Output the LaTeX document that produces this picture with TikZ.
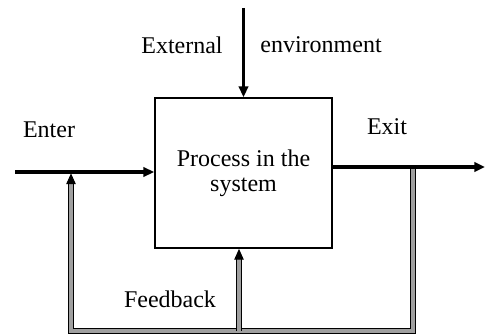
\documentclass[tikz,border=0pt]{standalone}
\usepackage{fontspec}
\setmainfont{Liberation Serif}
\usetikzlibrary{arrows.meta}
\begin{document}
\begin{tikzpicture}[x=0.75pt,y=-0.75pt,
  lbl/.style={font=\fontsize{18}{18.75}\selectfont, inner sep=0pt},
  mainarrow/.style={line width=2.3pt, -{Triangle[length=8pt,width=7pt]}},
  fb/.style={draw=black, line width=0.75pt, double=gray!75, double distance=2.3pt},
  fbarrow/.style={fb, -{Triangle[length=8pt,width=7pt]}}]
\useasboundingbox[fill=white] (0,0) rectangle (485,335);
\node[draw, line width=1.3pt, minimum width=132.75pt, minimum height=112.5pt,
      align=center, lbl] (box) at (243.5,173) {Process in the\\system};
\coordinate (inL) at (15,172);
\coordinate (outR) at (485,167);
\coordinate (extT) at (243.5,8);
\coordinate (fbR) at (413,167);
\coordinate (fbRB) at (413,331);
\coordinate (fbLB) at (71,331);
\coordinate (fbLT) at (71,172);
\coordinate (fbM) at (239,331);
% feedback loop
\draw[fbarrow] (fbR) -- (fbRB) -- (fbLB) -- ([yshift=-1pt]fbLT);
\draw[fbarrow] (fbM) -- (fbM |- box.south);
% main arrows
\draw[mainarrow] (inL) -- (inL -| box.west);
\draw[mainarrow] (outR -| box.east) -- (outR);
\draw[mainarrow] (extT) -- (box.north);
% labels
\node[lbl] (enter) at (49,130) {Enter};
\node[lbl] (exit) at (387,127) {Exit};
\node[lbl] (ext) at (182,45) {External};
\node[lbl] (env) at (321,45) {environment};
\node[lbl] (feed) at (170,299) {Feedback};
\end{tikzpicture}
\end{document}
